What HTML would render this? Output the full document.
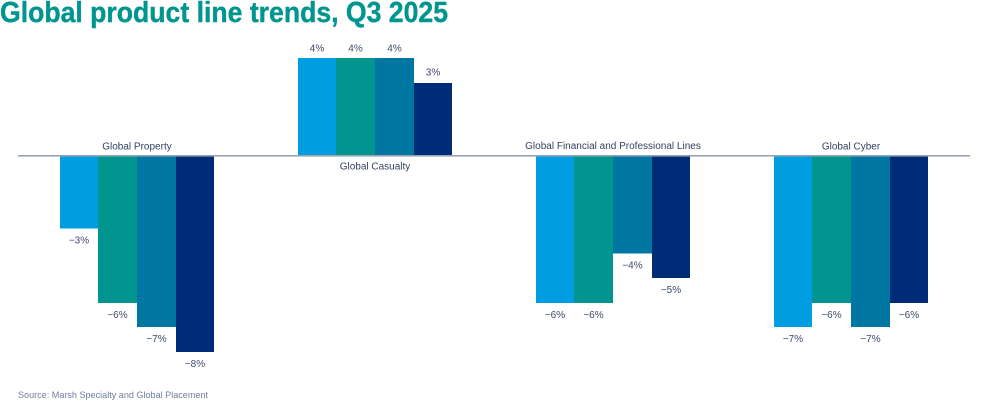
<!DOCTYPE html>
<html>
<head>
<meta charset="utf-8">
<style>
  html,body{margin:0;padding:0;background:#fff;}
  svg{display:block;}
  text{font-family:"Liberation Sans",sans-serif;}
</style>
</head>
<body>
<svg width="996" height="418" viewBox="0 0 996 418" xmlns="http://www.w3.org/2000/svg">
  <text x="0" y="22" font-size="29" font-weight="bold" fill="#00968f" stroke="#00968f" stroke-width="0.4" textLength="448" lengthAdjust="spacingAndGlyphs">Global product line trends, Q3 2025</text>

  <!-- Global Property -->
  <rect x="60" y="156" width="38" height="72.5" fill="#009de0"/>
  <rect x="98" y="156" width="39" height="147" fill="#00968f"/>
  <rect x="137" y="156" width="39" height="171" fill="#0076a3"/>
  <rect x="176" y="156" width="38" height="196" fill="#002c77"/>

  <!-- Global Casualty -->
  <rect x="298" y="58" width="38" height="98" fill="#009de0"/>
  <rect x="336" y="58" width="39" height="98" fill="#00968f"/>
  <rect x="375" y="58" width="39" height="98" fill="#0076a3"/>
  <rect x="414" y="83" width="38" height="73" fill="#002c77"/>

  <!-- Global Financial -->
  <rect x="536" y="156" width="38" height="147" fill="#009de0"/>
  <rect x="574" y="156" width="39" height="147" fill="#00968f"/>
  <rect x="613" y="156" width="39" height="97.5" fill="#0076a3"/>
  <rect x="652" y="156" width="38" height="122" fill="#002c77"/>

  <!-- Global Cyber -->
  <rect x="774" y="156" width="38" height="171" fill="#009de0"/>
  <rect x="812" y="156" width="39" height="147" fill="#00968f"/>
  <rect x="851" y="156" width="39" height="171" fill="#0076a3"/>
  <rect x="890" y="156" width="38" height="147" fill="#002c77"/>

  <!-- axis -->
  <rect x="18" y="155" width="952" height="1.6" fill="#97a2b5"/>

  <g font-size="10" fill="#33425f" text-anchor="middle">
    <text x="137" y="149.5">Global Property</text>
    <text x="375" y="169.5">Global Casualty</text>
    <text x="613" y="149">Global Financial and Professional Lines</text>
    <text x="851" y="149.5">Global Cyber</text>
  </g>

  <g font-size="10" fill="#3b4a6b" text-anchor="middle">
    <text x="79" y="243.5">−3%</text>
    <text x="117.5" y="318">−6%</text>
    <text x="156.5" y="342">−7%</text>
    <text x="195" y="367">−8%</text>
    <text x="317" y="51.5">4%</text>
    <text x="355.5" y="51.5">4%</text>
    <text x="394.5" y="51.5">4%</text>
    <text x="433" y="75.5">3%</text>
    <text x="555" y="318">−6%</text>
    <text x="593.5" y="318">−6%</text>
    <text x="632.5" y="268.5">−4%</text>
    <text x="671" y="293">−5%</text>
    <text x="793" y="342">−7%</text>
    <text x="831.5" y="318">−6%</text>
    <text x="870.5" y="342">−7%</text>
    <text x="909" y="318">−6%</text>
  </g>

  <text x="18" y="398" font-size="9" fill="#6f7f9c" textLength="190" lengthAdjust="spacingAndGlyphs">Source: Marsh Specialty and Global Placement</text>
</svg>
</body>
</html>
